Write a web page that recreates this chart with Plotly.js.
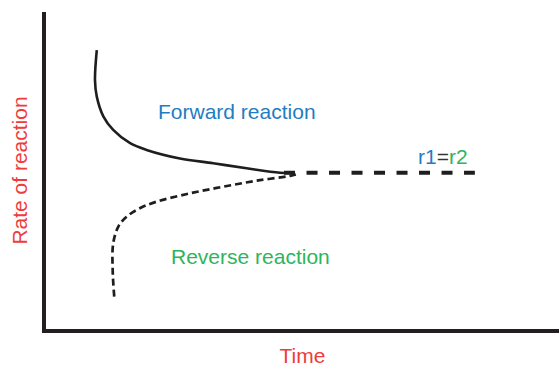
<!DOCTYPE html>
<html>
<head>
<meta charset="utf-8">
<script src="https://cdn.plot.ly/plotly-3.0.1.min.js"></script>
<style>html,body{margin:0;padding:0;background:#fff;}#chart{width:559px;height:367px;}</style>
</head>
<body>
<div id="chart"></div>
<script>
// Forward reaction rate (solid curve)
const forwardTime = [9.9, 9.55, 9.9, 11.2, 13.1, 16.4, 19.6, 26.1, 32.6, 39.1, 45.6, 48.2];
const forwardRate = [88.0, 78.5, 73.3, 67.0, 62.8, 58.6, 56.5, 53.8, 52.3, 50.7, 49.3, 49.2];
// Reverse reaction rate (dashed curve)
const reverseTime = [13.3, 13.0, 13.1, 14.1, 15.7, 18.3, 21.6, 28.1, 34.6, 41.1, 47.6, 49.5];
const reverseRate = [10.2, 18.6, 27.0, 32.3, 35.4, 38.1, 40.2, 42.8, 44.9, 46.8, 48.3, 49.1];
// Equilibrium (r1 = r2)
const equilTime = [46.4, 83.6];
const equilRate = [49.3, 49.3];

const axisColor = '#231f20';
const curveColor = '#1e1e1e';
const blue = '#1f7dc2';
const green = '#2db55d';
const red = '#ef3b3b';
const font = 'Liberation Sans, Arial, sans-serif';

const traces = [
  {x: forwardTime, y: forwardRate, mode: 'lines', line: {color: curveColor, width: 2.6, shape: 'spline', smoothing: 1}, hoverinfo: 'skip'},
  {x: reverseTime, y: reverseRate, mode: 'lines', line: {color: curveColor, width: 2.7, shape: 'spline', smoothing: 1, dash: '7px,4px'}, hoverinfo: 'skip'},
  {x: equilTime, y: equilRate, mode: 'lines', line: {color: curveColor, width: 4, dash: '11px,11.5px'}, hoverinfo: 'skip'}
];

const layout = {
  width: 559, height: 367,
  margin: {l: 46, r: 0, t: 12, b: 38},
  paper_bgcolor: '#fff', plot_bgcolor: '#fff',
  showlegend: false,
  font: {family: font, size: 21},
  xaxis: {range: [0, 100], showgrid: false, zeroline: false, showticklabels: false, ticks: '',
          showline: true, linewidth: 4, linecolor: axisColor,
          title: {text: 'Time', font: {family: font, size: 21, color: red}, standoff: 20}},
  yaxis: {range: [0, 100], showgrid: false, zeroline: false, showticklabels: false, ticks: '',
          showline: true, linewidth: 4, linecolor: axisColor,
          title: {text: 'Rate of reaction', font: {family: font, size: 21, color: red}, standoff: 10}},
  annotations: [
    {x: 37.2, y: 68.5, xref: 'x', yref: 'y', text: 'Forward reaction', showarrow: false,
     font: {family: font, size: 21, color: blue}},
    {x: 39.8, y: 23.0, xref: 'x', yref: 'y', text: 'Reverse reaction', showarrow: false,
     font: {family: font, size: 21, color: green}},
    {x: 77.4, y: 54.4, xref: 'x', yref: 'y',
     text: '<span style="color:' + blue + '">r1</span><span style="color:#333">=</span><span style="color:' + green + '">r2</span>',
     showarrow: false, font: {family: font, size: 21, color: '#333'}}
  ]
};

Plotly.newPlot('chart', traces, layout, {staticPlot: true, displayModeBar: false});
</script>
</body>
</html>
